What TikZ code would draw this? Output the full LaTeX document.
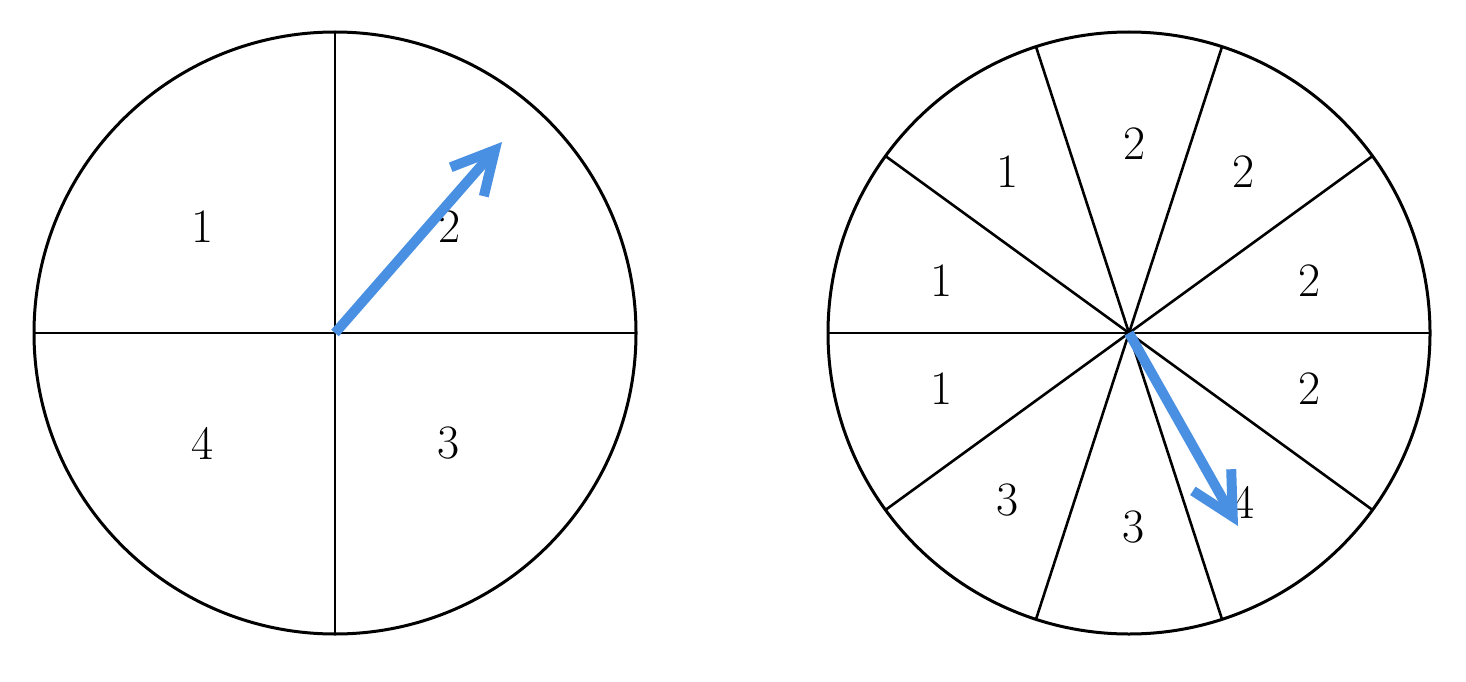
\documentclass[tikz,border=0pt]{standalone}
\usetikzlibrary{arrows.meta,calc}
\definecolor{needle}{HTML}{4A90E2}
\tikzset{
  rim/.style={line width=3pt, black},
  spoke/.style={line width=2.6pt, black},
  lab/.style={inner sep=0pt, font=\fontsize{48}{50}\selectfont},
  pointer/.style={line width=10pt, needle, line cap=butt,
    -{Straight Barb[length=42pt, width=44pt, line width=10pt]}},
}
\begin{document}
\begin{tikzpicture}[x=1pt,y=-1pt]
\useasboundingbox (0,0) rectangle (1466,682);
% left spinner
\coordinate (L) at (335,333);
\draw[rim] (L) circle (301);
\draw[spoke] (335,32) -- (335,634);
\draw[spoke] (34,333) -- (636,333);
\node[lab] (l1) at (203,227) {1};
\node[lab] (l2) at (450,227) {2};
\node[lab] (l4) at (203,443) {4};
\node[lab] (l3) at (449,443) {3};
\coordinate (Ltip) at (502,142);
\draw[pointer] (L) -- (Ltip);
% right spinner
\coordinate (R) at (1129,333);
\draw[rim] (R) circle (301);
\foreach \a in {0,36,72,108,144}{
  \draw[spoke] ($(R)+(\a:301)$) -- ($(R)+(\a+180:301)$);
}
\node[lab] (r1) at (1134,144) {2};
\node[lab] (r2) at (1243,172) {2};
\node[lab] (r3) at (1309,281) {2};
\node[lab] (r4) at (1309,389) {2};
\node[lab] (r5) at (1243,502) {4};
\node[lab] (r6) at (1133,527) {3};
\node[lab] (r7) at (1008,500) {3};
\node[lab] (r8) at (942,389) {1};
\node[lab] (r9) at (942,281) {1};
\node[lab] (r10) at (1008,172) {1};
\coordinate (Rtip) at (1238,526);
\draw[pointer] (R) -- (Rtip);
\end{tikzpicture}
\end{document}
